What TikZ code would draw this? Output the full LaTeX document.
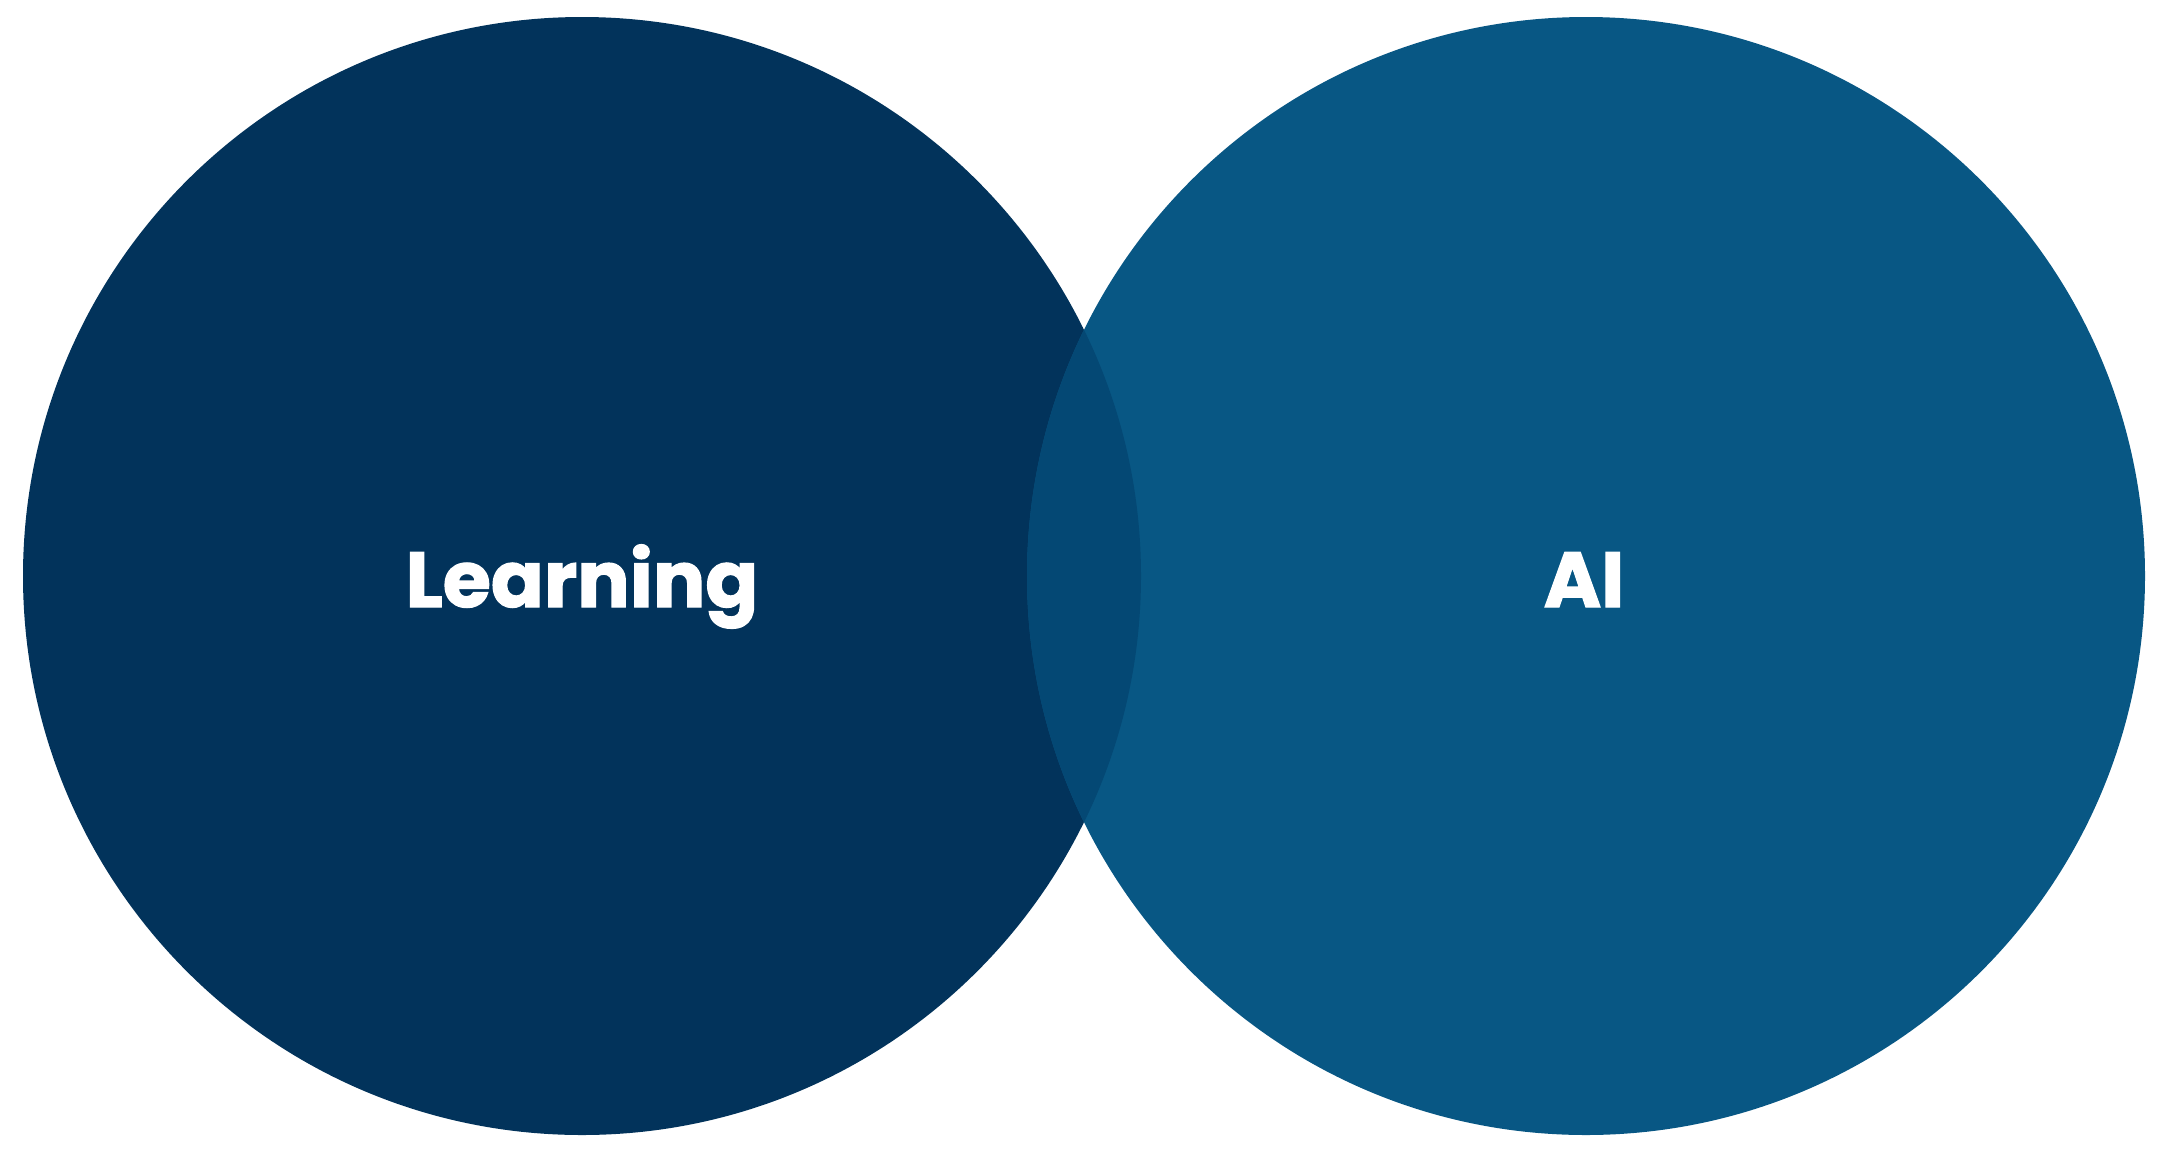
\documentclass[tikz,border=0pt]{standalone}
\usepackage{fontspec}
\setmainfont{Poppins}[BoldFeatures={FakeBold=1.6}]
\definecolor{leftc}{RGB}{2,51,91}
\definecolor{rightc}{RGB}{8,87,132}
\definecolor{midc}{RGB}{4,72,116}
\tikzset{lbl/.style={text=white,font=\fontsize{78}{80}\selectfont\bfseries,anchor=base,inner sep=0pt}}
\begin{document}
\begin{tikzpicture}[x=1pt,y=-1pt]
\useasboundingbox (0,0) rectangle (2172,1160);
\fill[leftc] (582,576) circle (559);
\fill[rightc] (1586,576) circle (559);
\begin{scope}
\clip (582,576) circle (559);
\fill[midc] (1586,576) circle (559);
\end{scope}
\node[lbl] (learning) at (582,607) {Learning};
\node[lbl] (ai) at (1584,607) {AI};
\end{tikzpicture}
\end{document}
